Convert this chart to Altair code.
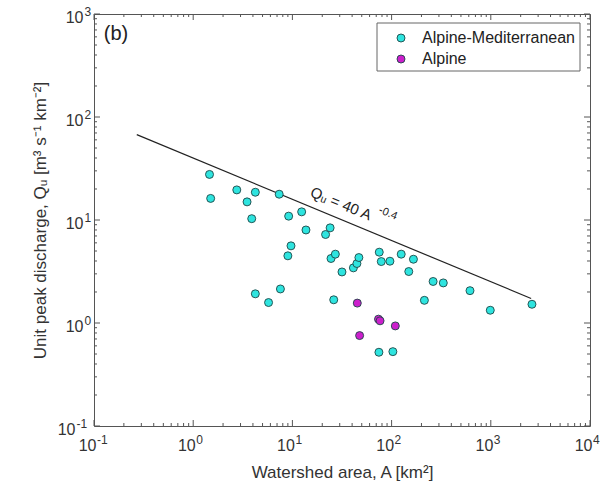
import altair as alt
import pandas as pd

# ---------------- data ----------------
cyan_A = [1.46, 1.50, 2.75, 3.49, 4.23, 3.89, 7.36, 9.17, 12.4, 13.7,
          9.68, 9.0, 21.6, 24.0, 24.5, 27.1, 31.6, 41.2, 44.7, 46.8,
          75.1, 78.7, 96.2, 125, 166, 149, 262, 332, 617, 214,
          988, 2600, 4.23, 5.75, 7.57, 26.1, 74.5, 103]
cyan_Q = [27.7, 16.2, 19.6, 15.0, 18.6, 10.3, 17.8, 10.9, 12.0, 8.0,
          5.61, 4.49, 7.23, 8.39, 4.23, 4.66, 3.13, 3.43, 3.78, 4.32,
          4.87, 3.95, 3.98, 4.66, 4.16, 3.16, 2.53, 2.45, 2.06, 1.66,
          1.33, 1.52, 1.92, 1.58, 2.14, 1.68, 0.520, 0.527]
mag_A = [45.1, 73.8, 76.5, 109, 47.6]
mag_Q = [1.56, 1.09, 1.05, 0.937, 0.755]

group_names = ["Alpine-Mediterranean", "Alpine"]
group_colors = ["#2ee4df", "#cc1fcc"]

fit_A = [0.27, 2550]
fit_Q = [67.4, 1.73]

eq_main_pos = [30.9, 14.4]
eq_exp_pos = [92.0, 11.6]

x_major = [0.1, 1, 10, 100, 1000, 10000]
x_exp = ["-1", "0", "1", "2", "3", "4"]
y_major = [0.1, 1, 10, 100, 1000]
y_exp = ["-1", "0", "1", "2", "3"]
minor_mult = [2, 3, 4, 5, 6, 7, 8, 9]

# ---------------- layout ----------------
W, H = 496, 412
FONT = "Liberation Sans"
TXT = "#333333"
BASE_FS, EXP_FS = 16, 12

xs = alt.Scale(type="log", domain=[0.1, 10000], nice=False)
ys = alt.Scale(type="log", domain=[0.1, 1000], nice=False)

pts = pd.DataFrame({
    "A": cyan_A + mag_A,
    "Q": cyan_Q + mag_Q,
    "group": [group_names[0]] * len(cyan_A) + [group_names[1]] * len(mag_A),
})

x_minor = [d * m for d in x_major[:-1] for m in minor_mult]
y_minor = [d * m for d in y_major[:-1] for m in minor_mult]

X_AX = alt.Axis(labels=False, ticks=False, domain=False, grid=False,
                title="Watershed area, A [km\u00b2]", titlePadding=38,
                titleFontSize=17, titleFont=FONT, titleColor=TXT, titleFontWeight="normal")
Y_AX = alt.Axis(labels=False, ticks=False, domain=False, grid=False,
                title="Unit peak discharge, Q\u1d64 [m\u00b3 s\u207b\u00b9 km\u207b\u00b2]",
                titlePadding=45,
                titleFontSize=17, titleFont=FONT, titleColor=TXT, titleFontWeight="normal")

color_scale = alt.Scale(domain=group_names, range=group_colors)
PT_SIZE = 64
PT_STROKE = "#1d4646"

points = alt.Chart(pts).mark_circle(size=PT_SIZE, opacity=1, stroke=PT_STROKE, strokeWidth=0.9).encode(
    x=alt.X("A:Q", scale=xs, axis=X_AX),
    y=alt.Y("Q:Q", scale=ys, axis=Y_AX),
    color=alt.Color("group:N", scale=color_scale, legend=None),
    order=alt.Order("group:N", sort="descending"),
)

fit = alt.Chart(pd.DataFrame({"A": fit_A, "Q": fit_Q})).mark_line(
    color="#222222", strokeWidth=1.2).encode(
    x=alt.X("A:Q", scale=xs, axis=X_AX), y=alt.Y("Q:Q", scale=ys, axis=Y_AX))

eq_main = alt.Chart(pd.DataFrame({"A": [eq_main_pos[0]], "Q": [eq_main_pos[1]],
                                  "t": ["Q\u1d64 = 40 A"]})).mark_text(
    font=FONT, fontSize=15, angle=22.5, color="#222222", align="center", baseline="middle").encode(
    x=alt.X("A:Q", scale=xs, axis=X_AX), y=alt.Y("Q:Q", scale=ys, axis=Y_AX), text="t:N")

eq_exp = alt.Chart(pd.DataFrame({"A": [eq_exp_pos[0]], "Q": [eq_exp_pos[1]],
                                 "t": ["-0.4"]})).mark_text(
    font=FONT, fontSize=11, angle=22.5, color="#222222", align="center", baseline="middle").encode(
    x=alt.X("A:Q", scale=xs, axis=X_AX), y=alt.Y("Q:Q", scale=ys, axis=Y_AX), text="t:N")

panel = alt.Chart(pd.DataFrame({"t": ["(b)"]})).mark_text(
    font=FONT, fontSize=20, color="#222222", align="center", baseline="middle").encode(
    x=alt.value(22), y=alt.value(20), text="t:N")

# ---- tick labels 10^n drawn as base + exponent ----
xl = pd.DataFrame({"A": x_major, "b": ["10"] * len(x_major), "e": x_exp})
yl = pd.DataFrame({"Q": y_major, "b": ["10"] * len(y_major), "e": y_exp})

x_base = alt.Chart(xl).mark_text(font=FONT, fontSize=BASE_FS, color=TXT, align="right",
                                 baseline="alphabetic", dx=2.5).encode(
    x=alt.X("A:Q", scale=xs, axis=X_AX), y=alt.value(H + 25), text="b:N")
x_sup = alt.Chart(xl).mark_text(font=FONT, fontSize=EXP_FS, color=TXT, align="left",
                                baseline="alphabetic", dx=3).encode(
    x=alt.X("A:Q", scale=xs, axis=X_AX), y=alt.value(H + 17.5), text="e:N")

def ylabels(cond, xb, xe):
    base = alt.Chart(yl).transform_filter(cond).mark_text(
        font=FONT, fontSize=BASE_FS, color=TXT, align="right", baseline="alphabetic", dy=9).encode(
        y=alt.Y("Q:Q", scale=ys, axis=Y_AX), x=alt.value(xb), text="b:N")
    sup = alt.Chart(yl).transform_filter(cond).mark_text(
        font=FONT, fontSize=EXP_FS, color=TXT, align="left", baseline="alphabetic", dy=1.5).encode(
        y=alt.Y("Q:Q", scale=ys, axis=Y_AX), x=alt.value(xe), text="e:N")
    return [base, sup]

y_labels = ylabels("datum.Q >= 1", -10.5, -9.5) + ylabels("datum.Q < 1", -18.5, -17.5)

# ---- inward ticks on all four sides ----
TC = "#555555"
def xticks(vals, y0, y1):
    return alt.Chart(pd.DataFrame({"A": vals})).mark_rule(color=TC, strokeWidth=1).encode(
        x=alt.X("A:Q", scale=xs, axis=X_AX), y=alt.value(y0), y2=alt.value(y1))

def yticks(vals, x0, x1):
    return alt.Chart(pd.DataFrame({"Q": vals})).mark_rule(color=TC, strokeWidth=1).encode(
        y=alt.Y("Q:Q", scale=ys, axis=Y_AX), x=alt.value(x0), x2=alt.value(x1))

ticks = [
    xticks(x_major, H, H - 6), xticks(x_minor, H, H - 3),
    xticks(x_major, 0, 6), xticks(x_minor, 0, 3),
    yticks(y_major, 0, 6), yticks(y_minor, 0, 3),
    yticks(y_major, W, W - 6), yticks(y_minor, W, W - 3),
]

# ---- legend box (drawn by hand, inside top-right) ----
LX0, LX1, LY0, LY1 = 283, 486, 9, 57
leg_box = alt.Chart(pd.DataFrame({"t": [""]})).mark_rect(
    fill="white", stroke="#666666", strokeWidth=1).encode(
    x=alt.value(LX0), x2=alt.value(LX1), y=alt.value(LY0), y2=alt.value(LY1))

def leg_row(i, yc):
    d = pd.DataFrame({"group": [group_names[i]]})
    sym = alt.Chart(d).mark_circle(size=PT_SIZE, opacity=1, stroke=PT_STROKE, strokeWidth=0.9).encode(
        x=alt.value(307), y=alt.value(yc),
        color=alt.Color("group:N", scale=color_scale, legend=None))
    lab = alt.Chart(d).mark_text(font=FONT, fontSize=16, color="#222222", align="left",
                                 baseline="middle").encode(
        x=alt.value(328), y=alt.value(yc), text="group:N")
    return [sym, lab]

legend = [leg_box] + leg_row(0, 24) + leg_row(1, 45)

chart = alt.layer(*ticks, fit, points, eq_main, eq_exp, panel,
                  x_base, x_sup, *y_labels, *legend).properties(
    width=W, height=H,
    autosize=alt.AutoSizeParams(type="none"),
    padding={"left": 94, "top": 14, "right": 23, "bottom": 62},
    background="white",
).configure_view(stroke="#555555", strokeWidth=1)

chart.save("out.html", embed_options={"renderer": "svg", "actions": False})
